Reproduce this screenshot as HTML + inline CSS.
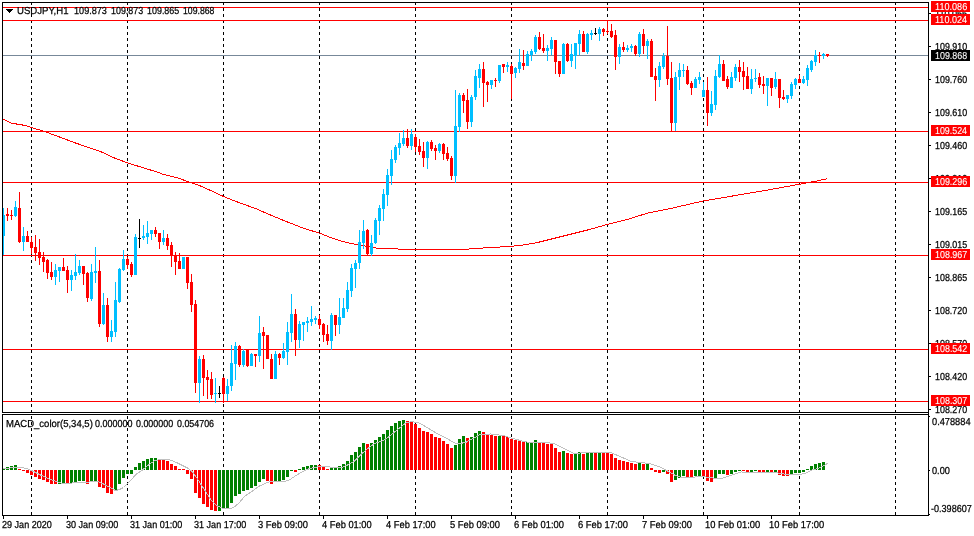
<!DOCTYPE html>
<html><head><meta charset="utf-8"><title>USDJPY,H1</title>
<style>
html,body{margin:0;padding:0;background:#fff}
body{width:974px;height:536px;position:relative;overflow:hidden;font-family:"Liberation Sans",sans-serif}
.t{position:absolute;white-space:pre;line-height:12px;transform-origin:0 0;font-family:"Liberation Sans",sans-serif;filter:grayscale(1);text-rendering:geometricPrecision;-webkit-text-stroke:0.25px}
.bx{position:absolute;left:931px;width:39px;height:11px}
</style></head><body>
<svg width="974" height="536" viewBox="0 0 974 536" shape-rendering="crispEdges" style="position:absolute;left:0;top:0"><g stroke="#000" stroke-width="1" stroke-dasharray="3 3">
<line x1="31.5" y1="2" x2="31.5" y2="412"/>
<line x1="31.5" y1="416" x2="31.5" y2="515"/>
<line x1="127.5" y1="2" x2="127.5" y2="412"/>
<line x1="127.5" y1="416" x2="127.5" y2="515"/>
<line x1="223.5" y1="2" x2="223.5" y2="412"/>
<line x1="223.5" y1="416" x2="223.5" y2="515"/>
<line x1="319.5" y1="2" x2="319.5" y2="412"/>
<line x1="319.5" y1="416" x2="319.5" y2="515"/>
<line x1="415.5" y1="2" x2="415.5" y2="412"/>
<line x1="415.5" y1="416" x2="415.5" y2="515"/>
<line x1="511.5" y1="2" x2="511.5" y2="412"/>
<line x1="511.5" y1="416" x2="511.5" y2="515"/>
<line x1="607.5" y1="2" x2="607.5" y2="412"/>
<line x1="607.5" y1="416" x2="607.5" y2="515"/>
<line x1="703.5" y1="2" x2="703.5" y2="412"/>
<line x1="703.5" y1="416" x2="703.5" y2="515"/>
<line x1="799.5" y1="2" x2="799.5" y2="412"/>
<line x1="799.5" y1="416" x2="799.5" y2="515"/>
<line x1="895.5" y1="2" x2="895.5" y2="412"/>
<line x1="895.5" y1="416" x2="895.5" y2="515"/>
</g>
<rect x="3" y="55" width="925" height="1" fill="#778899"/>
<rect x="3" y="7" width="925" height="1" fill="#ff0000"/>
<rect x="3" y="20" width="925" height="1" fill="#ff0000"/>
<rect x="3" y="131" width="925" height="1" fill="#ff0000"/>
<rect x="3" y="182" width="925" height="1" fill="#ff0000"/>
<rect x="3" y="255" width="925" height="1" fill="#ff0000"/>
<rect x="3" y="349" width="925" height="1" fill="#ff0000"/>
<rect x="3" y="401" width="925" height="1" fill="#ff0000"/>
<polyline points="3.50,119.25 10.50,123.00 25.50,125.50 31.50,127.50 44.50,131.50 55.50,135.50 75.50,143.00 100.50,151.50 115.50,158.50 128.00,163.00 145.50,168.50 155.50,171.50 163.00,174.25 178.00,178.00 190.50,182.50 200.50,186.00 213.00,191.50 223.00,196.25 235.50,201.25 243.50,204.25 255.50,208.50 270.50,215.00 285.50,221.25 303.00,228.00 320.50,233.50 333.00,238.50 345.50,242.25 358.00,244.75 378.00,248.40 397.00,248.80 400.00,249.70 440.50,249.75 465.50,249.25 483.00,248.00 500.50,247.00 520.50,245.50 535.50,243.00 550.50,239.25 570.50,234.25 590.50,229.25 608.00,224.25 628.00,219.25 648.00,213.00 670.50,208.50 683.50,205.50 703.00,201.00 735.50,195.50 768.00,190.00 799.25,184.25 815.50,181.25 827.25,178.75" fill="none" stroke="#ff0000" stroke-width="1"/>
<rect x="3" y="208" width="1" height="47" fill="#00bfff"/>
<rect x="2" y="215" width="3" height="21" fill="#00bfff"/>
<rect x="7" y="208" width="1" height="13" fill="#ff0000"/>
<rect x="6" y="214" width="3" height="2" fill="#ff0000"/>
<rect x="11" y="210" width="1" height="10" fill="#ff0000"/>
<rect x="10" y="215" width="3" height="1" fill="#ff0000"/>
<rect x="15" y="201" width="1" height="16" fill="#00bfff"/>
<rect x="14" y="207" width="3" height="9" fill="#00bfff"/>
<rect x="19" y="192" width="1" height="51" fill="#ff0000"/>
<rect x="18" y="208" width="3" height="34" fill="#ff0000"/>
<rect x="23" y="227" width="1" height="24" fill="#00bfff"/>
<rect x="22" y="236" width="3" height="6" fill="#00bfff"/>
<rect x="27" y="231" width="1" height="11" fill="#ff0000"/>
<rect x="26" y="236" width="3" height="6" fill="#ff0000"/>
<rect x="31" y="237" width="1" height="17" fill="#ff0000"/>
<rect x="30" y="242" width="3" height="6" fill="#ff0000"/>
<rect x="35" y="235" width="1" height="26" fill="#ff0000"/>
<rect x="34" y="247" width="3" height="6" fill="#ff0000"/>
<rect x="39" y="239" width="1" height="26" fill="#ff0000"/>
<rect x="38" y="252" width="3" height="6" fill="#ff0000"/>
<rect x="43" y="252" width="1" height="20" fill="#ff0000"/>
<rect x="42" y="257" width="3" height="5" fill="#ff0000"/>
<rect x="47" y="259" width="1" height="20" fill="#ff0000"/>
<rect x="46" y="260" width="3" height="13" fill="#ff0000"/>
<rect x="51" y="262" width="1" height="18" fill="#ff0000"/>
<rect x="50" y="272" width="3" height="5" fill="#ff0000"/>
<rect x="55" y="264" width="1" height="21" fill="#00bfff"/>
<rect x="54" y="270" width="3" height="7" fill="#00bfff"/>
<rect x="59" y="267" width="1" height="15" fill="#00bfff"/>
<rect x="58" y="267" width="3" height="4" fill="#00bfff"/>
<rect x="63" y="258" width="1" height="13" fill="#ff0000"/>
<rect x="62" y="267" width="3" height="4" fill="#ff0000"/>
<rect x="67" y="266" width="1" height="27" fill="#ff0000"/>
<rect x="66" y="270" width="3" height="10" fill="#ff0000"/>
<rect x="71" y="270" width="1" height="21" fill="#00bfff"/>
<rect x="70" y="275" width="3" height="5" fill="#00bfff"/>
<rect x="75" y="254" width="1" height="26" fill="#00bfff"/>
<rect x="74" y="272" width="3" height="4" fill="#00bfff"/>
<rect x="79" y="260" width="1" height="15" fill="#00bfff"/>
<rect x="78" y="266" width="3" height="7" fill="#00bfff"/>
<rect x="83" y="266" width="1" height="19" fill="#ff0000"/>
<rect x="82" y="266" width="3" height="8" fill="#ff0000"/>
<rect x="87" y="272" width="1" height="30" fill="#ff0000"/>
<rect x="86" y="273" width="3" height="25" fill="#ff0000"/>
<rect x="91" y="264" width="1" height="37" fill="#00bfff"/>
<rect x="90" y="272" width="3" height="27" fill="#00bfff"/>
<rect x="95" y="247" width="1" height="36" fill="#00bfff"/>
<rect x="94" y="271" width="3" height="2" fill="#00bfff"/>
<rect x="99" y="260" width="1" height="67" fill="#ff0000"/>
<rect x="98" y="271" width="3" height="53" fill="#ff0000"/>
<rect x="103" y="293" width="1" height="32" fill="#00bfff"/>
<rect x="102" y="305" width="3" height="19" fill="#00bfff"/>
<rect x="107" y="298" width="1" height="44" fill="#ff0000"/>
<rect x="106" y="305" width="3" height="32" fill="#ff0000"/>
<rect x="111" y="320" width="1" height="22" fill="#00bfff"/>
<rect x="110" y="331" width="3" height="6" fill="#00bfff"/>
<rect x="115" y="282" width="1" height="55" fill="#00bfff"/>
<rect x="114" y="300" width="3" height="32" fill="#00bfff"/>
<rect x="119" y="268" width="1" height="35" fill="#00bfff"/>
<rect x="118" y="269" width="3" height="33" fill="#00bfff"/>
<rect x="123" y="250" width="1" height="21" fill="#00bfff"/>
<rect x="122" y="259" width="3" height="11" fill="#00bfff"/>
<rect x="127" y="257" width="1" height="12" fill="#ff0000"/>
<rect x="126" y="259" width="3" height="6" fill="#ff0000"/>
<rect x="131" y="262" width="1" height="15" fill="#ff0000"/>
<rect x="130" y="264" width="3" height="11" fill="#ff0000"/>
<rect x="135" y="234" width="1" height="41" fill="#00bfff"/>
<rect x="134" y="237" width="3" height="38" fill="#00bfff"/>
<rect x="139" y="219" width="1" height="29" fill="#000000"/>
<rect x="138" y="238" width="3" height="1" fill="#000000"/>
<rect x="143" y="225" width="1" height="15" fill="#00bfff"/>
<rect x="142" y="236" width="3" height="2" fill="#00bfff"/>
<rect x="147" y="221" width="1" height="23" fill="#00bfff"/>
<rect x="146" y="233" width="3" height="4" fill="#00bfff"/>
<rect x="151" y="230" width="1" height="10" fill="#00bfff"/>
<rect x="150" y="230" width="3" height="4" fill="#00bfff"/>
<rect x="155" y="227" width="1" height="10" fill="#ff0000"/>
<rect x="154" y="230" width="3" height="4" fill="#ff0000"/>
<rect x="159" y="233" width="1" height="16" fill="#ff0000"/>
<rect x="158" y="233" width="3" height="9" fill="#ff0000"/>
<rect x="163" y="230" width="1" height="15" fill="#00bfff"/>
<rect x="162" y="238" width="3" height="4" fill="#00bfff"/>
<rect x="167" y="234" width="1" height="16" fill="#ff0000"/>
<rect x="166" y="238" width="3" height="8" fill="#ff0000"/>
<rect x="171" y="242" width="1" height="25" fill="#ff0000"/>
<rect x="170" y="245" width="3" height="11" fill="#ff0000"/>
<rect x="175" y="252" width="1" height="23" fill="#ff0000"/>
<rect x="174" y="255" width="3" height="7" fill="#ff0000"/>
<rect x="179" y="253" width="1" height="16" fill="#ff0000"/>
<rect x="178" y="261" width="3" height="8" fill="#ff0000"/>
<rect x="183" y="257" width="1" height="12" fill="#00bfff"/>
<rect x="182" y="257" width="3" height="12" fill="#00bfff"/>
<rect x="187" y="257" width="1" height="32" fill="#ff0000"/>
<rect x="186" y="257" width="3" height="26" fill="#ff0000"/>
<rect x="191" y="274" width="1" height="38" fill="#ff0000"/>
<rect x="190" y="282" width="3" height="23" fill="#ff0000"/>
<rect x="195" y="300" width="1" height="93" fill="#ff0000"/>
<rect x="194" y="304" width="3" height="79" fill="#ff0000"/>
<rect x="199" y="356" width="1" height="47" fill="#00bfff"/>
<rect x="198" y="359" width="3" height="24" fill="#00bfff"/>
<rect x="203" y="355" width="1" height="41" fill="#ff0000"/>
<rect x="202" y="359" width="3" height="19" fill="#ff0000"/>
<rect x="207" y="370" width="1" height="29" fill="#ff0000"/>
<rect x="206" y="377" width="3" height="3" fill="#ff0000"/>
<rect x="211" y="372" width="1" height="27" fill="#ff0000"/>
<rect x="210" y="379" width="3" height="16" fill="#ff0000"/>
<rect x="215" y="378" width="1" height="25" fill="#00bfff"/>
<rect x="214" y="393" width="3" height="1" fill="#00bfff"/>
<rect x="219" y="386" width="1" height="12" fill="#000000"/>
<rect x="218" y="393" width="3" height="1" fill="#000000"/>
<rect x="223" y="377" width="1" height="26" fill="#ff0000"/>
<rect x="222" y="378" width="3" height="16" fill="#ff0000"/>
<rect x="227" y="379" width="1" height="22" fill="#00bfff"/>
<rect x="226" y="386" width="3" height="8" fill="#00bfff"/>
<rect x="231" y="345" width="1" height="46" fill="#00bfff"/>
<rect x="230" y="363" width="3" height="23" fill="#00bfff"/>
<rect x="235" y="342" width="1" height="38" fill="#00bfff"/>
<rect x="234" y="346" width="3" height="18" fill="#00bfff"/>
<rect x="239" y="345" width="1" height="22" fill="#ff0000"/>
<rect x="238" y="346" width="3" height="19" fill="#ff0000"/>
<rect x="243" y="349" width="1" height="18" fill="#00bfff"/>
<rect x="242" y="351" width="3" height="14" fill="#00bfff"/>
<rect x="247" y="349" width="1" height="18" fill="#ff0000"/>
<rect x="246" y="350" width="3" height="16" fill="#ff0000"/>
<rect x="251" y="353" width="1" height="13" fill="#00bfff"/>
<rect x="250" y="354" width="3" height="12" fill="#00bfff"/>
<rect x="255" y="354" width="1" height="13" fill="#ff0000"/>
<rect x="254" y="354" width="3" height="2" fill="#ff0000"/>
<rect x="259" y="316" width="1" height="46" fill="#00bfff"/>
<rect x="258" y="333" width="3" height="23" fill="#00bfff"/>
<rect x="263" y="327" width="1" height="42" fill="#ff0000"/>
<rect x="262" y="332" width="3" height="4" fill="#ff0000"/>
<rect x="267" y="335" width="1" height="24" fill="#ff0000"/>
<rect x="266" y="335" width="3" height="24" fill="#ff0000"/>
<rect x="271" y="354" width="1" height="25" fill="#ff0000"/>
<rect x="270" y="359" width="3" height="20" fill="#ff0000"/>
<rect x="275" y="351" width="1" height="28" fill="#00bfff"/>
<rect x="274" y="354" width="3" height="25" fill="#00bfff"/>
<rect x="279" y="353" width="1" height="12" fill="#ff0000"/>
<rect x="278" y="354" width="3" height="4" fill="#ff0000"/>
<rect x="283" y="343" width="1" height="16" fill="#00bfff"/>
<rect x="282" y="351" width="3" height="7" fill="#00bfff"/>
<rect x="287" y="322" width="1" height="43" fill="#00bfff"/>
<rect x="286" y="332" width="3" height="20" fill="#00bfff"/>
<rect x="291" y="294" width="1" height="48" fill="#00bfff"/>
<rect x="290" y="314" width="3" height="19" fill="#00bfff"/>
<rect x="295" y="309" width="1" height="47" fill="#ff0000"/>
<rect x="294" y="314" width="3" height="26" fill="#ff0000"/>
<rect x="299" y="321" width="1" height="27" fill="#00bfff"/>
<rect x="298" y="324" width="3" height="16" fill="#00bfff"/>
<rect x="303" y="322" width="1" height="19" fill="#00bfff"/>
<rect x="302" y="322" width="3" height="3" fill="#00bfff"/>
<rect x="307" y="317" width="1" height="15" fill="#00bfff"/>
<rect x="306" y="321" width="3" height="2" fill="#00bfff"/>
<rect x="311" y="306" width="1" height="20" fill="#00bfff"/>
<rect x="310" y="319" width="3" height="3" fill="#00bfff"/>
<rect x="315" y="316" width="1" height="8" fill="#00bfff"/>
<rect x="314" y="318" width="3" height="2" fill="#00bfff"/>
<rect x="319" y="315" width="1" height="14" fill="#ff0000"/>
<rect x="318" y="319" width="3" height="6" fill="#ff0000"/>
<rect x="323" y="323" width="1" height="19" fill="#ff0000"/>
<rect x="322" y="324" width="3" height="11" fill="#ff0000"/>
<rect x="327" y="325" width="1" height="20" fill="#ff0000"/>
<rect x="326" y="334" width="3" height="7" fill="#ff0000"/>
<rect x="331" y="313" width="1" height="37" fill="#00bfff"/>
<rect x="330" y="315" width="3" height="26" fill="#00bfff"/>
<rect x="335" y="315" width="1" height="21" fill="#ff0000"/>
<rect x="334" y="315" width="3" height="10" fill="#ff0000"/>
<rect x="339" y="298" width="1" height="36" fill="#00bfff"/>
<rect x="338" y="317" width="3" height="8" fill="#00bfff"/>
<rect x="343" y="298" width="1" height="20" fill="#00bfff"/>
<rect x="342" y="308" width="3" height="10" fill="#00bfff"/>
<rect x="347" y="282" width="1" height="30" fill="#00bfff"/>
<rect x="346" y="290" width="3" height="19" fill="#00bfff"/>
<rect x="351" y="264" width="1" height="33" fill="#00bfff"/>
<rect x="350" y="268" width="3" height="23" fill="#00bfff"/>
<rect x="355" y="260" width="1" height="28" fill="#00bfff"/>
<rect x="354" y="263" width="3" height="6" fill="#00bfff"/>
<rect x="359" y="230" width="1" height="39" fill="#00bfff"/>
<rect x="358" y="242" width="3" height="21" fill="#00bfff"/>
<rect x="363" y="220" width="1" height="29" fill="#00bfff"/>
<rect x="362" y="231" width="3" height="12" fill="#00bfff"/>
<rect x="367" y="229" width="1" height="26" fill="#ff0000"/>
<rect x="366" y="230" width="3" height="24" fill="#ff0000"/>
<rect x="371" y="235" width="1" height="21" fill="#00bfff"/>
<rect x="370" y="243" width="3" height="11" fill="#00bfff"/>
<rect x="375" y="218" width="1" height="26" fill="#00bfff"/>
<rect x="374" y="220" width="3" height="23" fill="#00bfff"/>
<rect x="379" y="205" width="1" height="30" fill="#00bfff"/>
<rect x="378" y="208" width="3" height="13" fill="#00bfff"/>
<rect x="383" y="189" width="1" height="32" fill="#00bfff"/>
<rect x="382" y="194" width="3" height="15" fill="#00bfff"/>
<rect x="387" y="169" width="1" height="37" fill="#00bfff"/>
<rect x="386" y="175" width="3" height="20" fill="#00bfff"/>
<rect x="391" y="150" width="1" height="35" fill="#00bfff"/>
<rect x="390" y="159" width="3" height="17" fill="#00bfff"/>
<rect x="395" y="145" width="1" height="18" fill="#00bfff"/>
<rect x="394" y="147" width="3" height="13" fill="#00bfff"/>
<rect x="399" y="133" width="1" height="22" fill="#00bfff"/>
<rect x="398" y="143" width="3" height="5" fill="#00bfff"/>
<rect x="403" y="130" width="1" height="16" fill="#00bfff"/>
<rect x="402" y="138" width="3" height="6" fill="#00bfff"/>
<rect x="407" y="129" width="1" height="19" fill="#ff0000"/>
<rect x="406" y="138" width="3" height="8" fill="#ff0000"/>
<rect x="411" y="129" width="1" height="21" fill="#00bfff"/>
<rect x="410" y="134" width="3" height="12" fill="#00bfff"/>
<rect x="415" y="134" width="1" height="18" fill="#ff0000"/>
<rect x="414" y="137" width="3" height="10" fill="#ff0000"/>
<rect x="419" y="139" width="1" height="16" fill="#ff0000"/>
<rect x="418" y="146" width="3" height="6" fill="#ff0000"/>
<rect x="423" y="142" width="1" height="25" fill="#ff0000"/>
<rect x="422" y="151" width="3" height="7" fill="#ff0000"/>
<rect x="427" y="141" width="1" height="28" fill="#00bfff"/>
<rect x="426" y="142" width="3" height="16" fill="#00bfff"/>
<rect x="431" y="140" width="1" height="11" fill="#ff0000"/>
<rect x="430" y="142" width="3" height="7" fill="#ff0000"/>
<rect x="435" y="145" width="1" height="15" fill="#ff0000"/>
<rect x="434" y="148" width="3" height="3" fill="#ff0000"/>
<rect x="439" y="143" width="1" height="10" fill="#00bfff"/>
<rect x="438" y="144" width="3" height="7" fill="#00bfff"/>
<rect x="443" y="143" width="1" height="17" fill="#ff0000"/>
<rect x="442" y="144" width="3" height="10" fill="#ff0000"/>
<rect x="447" y="147" width="1" height="14" fill="#ff0000"/>
<rect x="446" y="153" width="3" height="6" fill="#ff0000"/>
<rect x="451" y="156" width="1" height="24" fill="#ff0000"/>
<rect x="450" y="158" width="3" height="18" fill="#ff0000"/>
<rect x="455" y="90" width="1" height="93" fill="#00bfff"/>
<rect x="454" y="126" width="3" height="50" fill="#00bfff"/>
<rect x="459" y="93" width="1" height="39" fill="#00bfff"/>
<rect x="458" y="95" width="3" height="32" fill="#00bfff"/>
<rect x="463" y="93" width="1" height="20" fill="#ff0000"/>
<rect x="462" y="95" width="3" height="6" fill="#ff0000"/>
<rect x="467" y="89" width="1" height="40" fill="#ff0000"/>
<rect x="466" y="100" width="3" height="22" fill="#ff0000"/>
<rect x="471" y="95" width="1" height="32" fill="#00bfff"/>
<rect x="470" y="97" width="3" height="25" fill="#00bfff"/>
<rect x="475" y="70" width="1" height="30" fill="#00bfff"/>
<rect x="474" y="76" width="3" height="21" fill="#00bfff"/>
<rect x="479" y="64" width="1" height="24" fill="#00bfff"/>
<rect x="478" y="69" width="3" height="9" fill="#00bfff"/>
<rect x="483" y="62" width="1" height="45" fill="#ff0000"/>
<rect x="482" y="69" width="3" height="14" fill="#ff0000"/>
<rect x="487" y="81" width="1" height="21" fill="#ff0000"/>
<rect x="486" y="82" width="3" height="3" fill="#ff0000"/>
<rect x="491" y="80" width="1" height="9" fill="#00bfff"/>
<rect x="490" y="80" width="3" height="5" fill="#00bfff"/>
<rect x="495" y="78" width="1" height="9" fill="#ff0000"/>
<rect x="494" y="80" width="3" height="1" fill="#ff0000"/>
<rect x="499" y="65" width="1" height="18" fill="#00bfff"/>
<rect x="498" y="65" width="3" height="16" fill="#00bfff"/>
<rect x="503" y="64" width="1" height="9" fill="#ff0000"/>
<rect x="502" y="64" width="3" height="3" fill="#ff0000"/>
<rect x="507" y="62" width="1" height="10" fill="#00bfff"/>
<rect x="506" y="65" width="3" height="2" fill="#00bfff"/>
<rect x="511" y="64" width="1" height="35" fill="#ff0000"/>
<rect x="510" y="66" width="3" height="8" fill="#ff0000"/>
<rect x="515" y="67" width="1" height="11" fill="#00bfff"/>
<rect x="514" y="68" width="3" height="5" fill="#00bfff"/>
<rect x="519" y="49" width="1" height="24" fill="#00bfff"/>
<rect x="518" y="62" width="3" height="7" fill="#00bfff"/>
<rect x="523" y="50" width="1" height="20" fill="#ff0000"/>
<rect x="522" y="63" width="3" height="3" fill="#ff0000"/>
<rect x="527" y="51" width="1" height="15" fill="#00bfff"/>
<rect x="526" y="54" width="3" height="12" fill="#00bfff"/>
<rect x="531" y="49" width="1" height="12" fill="#00bfff"/>
<rect x="530" y="51" width="3" height="4" fill="#00bfff"/>
<rect x="535" y="35" width="1" height="19" fill="#00bfff"/>
<rect x="534" y="37" width="3" height="15" fill="#00bfff"/>
<rect x="539" y="32" width="1" height="18" fill="#ff0000"/>
<rect x="538" y="37" width="3" height="12" fill="#ff0000"/>
<rect x="543" y="34" width="1" height="19" fill="#ff0000"/>
<rect x="542" y="48" width="3" height="3" fill="#ff0000"/>
<rect x="547" y="45" width="1" height="16" fill="#00bfff"/>
<rect x="546" y="48" width="3" height="3" fill="#00bfff"/>
<rect x="551" y="37" width="1" height="18" fill="#00bfff"/>
<rect x="550" y="40" width="3" height="9" fill="#00bfff"/>
<rect x="555" y="40" width="1" height="34" fill="#ff0000"/>
<rect x="554" y="40" width="3" height="22" fill="#ff0000"/>
<rect x="559" y="61" width="1" height="16" fill="#ff0000"/>
<rect x="558" y="61" width="3" height="13" fill="#ff0000"/>
<rect x="563" y="43" width="1" height="31" fill="#00bfff"/>
<rect x="562" y="44" width="3" height="30" fill="#00bfff"/>
<rect x="567" y="43" width="1" height="19" fill="#ff0000"/>
<rect x="566" y="44" width="3" height="17" fill="#ff0000"/>
<rect x="571" y="44" width="1" height="23" fill="#00bfff"/>
<rect x="570" y="54" width="3" height="7" fill="#00bfff"/>
<rect x="575" y="43" width="1" height="26" fill="#00bfff"/>
<rect x="574" y="43" width="3" height="13" fill="#00bfff"/>
<rect x="579" y="30" width="1" height="25" fill="#00bfff"/>
<rect x="578" y="34" width="3" height="10" fill="#00bfff"/>
<rect x="583" y="31" width="1" height="21" fill="#ff0000"/>
<rect x="582" y="34" width="3" height="18" fill="#ff0000"/>
<rect x="587" y="33" width="1" height="21" fill="#00bfff"/>
<rect x="586" y="34" width="3" height="18" fill="#00bfff"/>
<rect x="591" y="30" width="1" height="10" fill="#00bfff"/>
<rect x="590" y="33" width="3" height="2" fill="#00bfff"/>
<rect x="595" y="28" width="1" height="7" fill="#000000"/>
<rect x="594" y="33" width="3" height="1" fill="#000000"/>
<rect x="599" y="27" width="1" height="14" fill="#00bfff"/>
<rect x="598" y="29" width="3" height="5" fill="#00bfff"/>
<rect x="603" y="28" width="1" height="8" fill="#ff0000"/>
<rect x="602" y="29" width="3" height="3" fill="#ff0000"/>
<rect x="607" y="21" width="1" height="13" fill="#ff0000"/>
<rect x="606" y="31" width="3" height="1" fill="#ff0000"/>
<rect x="611" y="24" width="1" height="14" fill="#ff0000"/>
<rect x="610" y="31" width="3" height="6" fill="#ff0000"/>
<rect x="615" y="30" width="1" height="40" fill="#ff0000"/>
<rect x="614" y="35" width="3" height="22" fill="#ff0000"/>
<rect x="619" y="44" width="1" height="20" fill="#00bfff"/>
<rect x="618" y="47" width="3" height="10" fill="#00bfff"/>
<rect x="623" y="42" width="1" height="10" fill="#ff0000"/>
<rect x="622" y="47" width="3" height="3" fill="#ff0000"/>
<rect x="627" y="45" width="1" height="7" fill="#00bfff"/>
<rect x="626" y="48" width="3" height="2" fill="#00bfff"/>
<rect x="631" y="44" width="1" height="8" fill="#00bfff"/>
<rect x="630" y="46" width="3" height="2" fill="#00bfff"/>
<rect x="635" y="45" width="1" height="11" fill="#ff0000"/>
<rect x="634" y="46" width="3" height="8" fill="#ff0000"/>
<rect x="639" y="32" width="1" height="25" fill="#00bfff"/>
<rect x="638" y="34" width="3" height="20" fill="#00bfff"/>
<rect x="643" y="29" width="1" height="25" fill="#ff0000"/>
<rect x="642" y="34" width="3" height="12" fill="#ff0000"/>
<rect x="647" y="39" width="1" height="20" fill="#00bfff"/>
<rect x="646" y="41" width="3" height="5" fill="#00bfff"/>
<rect x="651" y="39" width="1" height="38" fill="#ff0000"/>
<rect x="650" y="41" width="3" height="36" fill="#ff0000"/>
<rect x="655" y="68" width="1" height="33" fill="#ff0000"/>
<rect x="654" y="76" width="3" height="4" fill="#ff0000"/>
<rect x="659" y="62" width="1" height="25" fill="#00bfff"/>
<rect x="658" y="66" width="3" height="14" fill="#00bfff"/>
<rect x="663" y="53" width="1" height="16" fill="#00bfff"/>
<rect x="662" y="56" width="3" height="11" fill="#00bfff"/>
<rect x="667" y="26" width="1" height="59" fill="#ff0000"/>
<rect x="666" y="56" width="3" height="23" fill="#ff0000"/>
<rect x="671" y="62" width="1" height="69" fill="#ff0000"/>
<rect x="670" y="78" width="3" height="45" fill="#ff0000"/>
<rect x="675" y="72" width="1" height="59" fill="#00bfff"/>
<rect x="674" y="77" width="3" height="46" fill="#00bfff"/>
<rect x="679" y="63" width="1" height="27" fill="#00bfff"/>
<rect x="678" y="70" width="3" height="7" fill="#00bfff"/>
<rect x="683" y="64" width="1" height="13" fill="#00bfff"/>
<rect x="682" y="70" width="3" height="1" fill="#00bfff"/>
<rect x="687" y="66" width="1" height="19" fill="#ff0000"/>
<rect x="686" y="70" width="3" height="14" fill="#ff0000"/>
<rect x="691" y="81" width="1" height="14" fill="#ff0000"/>
<rect x="690" y="83" width="3" height="5" fill="#ff0000"/>
<rect x="695" y="77" width="1" height="11" fill="#00bfff"/>
<rect x="694" y="79" width="3" height="9" fill="#00bfff"/>
<rect x="699" y="72" width="1" height="12" fill="#00bfff"/>
<rect x="698" y="77" width="3" height="3" fill="#00bfff"/>
<rect x="703" y="82" width="1" height="15" fill="#00bfff"/>
<rect x="702" y="90" width="3" height="7" fill="#00bfff"/>
<rect x="707" y="77" width="1" height="49" fill="#ff0000"/>
<rect x="706" y="90" width="3" height="23" fill="#ff0000"/>
<rect x="711" y="91" width="1" height="25" fill="#00bfff"/>
<rect x="710" y="104" width="3" height="9" fill="#00bfff"/>
<rect x="715" y="70" width="1" height="40" fill="#00bfff"/>
<rect x="714" y="76" width="3" height="29" fill="#00bfff"/>
<rect x="719" y="55" width="1" height="23" fill="#00bfff"/>
<rect x="718" y="64" width="3" height="13" fill="#00bfff"/>
<rect x="723" y="60" width="1" height="21" fill="#ff0000"/>
<rect x="722" y="64" width="3" height="17" fill="#ff0000"/>
<rect x="727" y="76" width="1" height="13" fill="#ff0000"/>
<rect x="726" y="79" width="3" height="8" fill="#ff0000"/>
<rect x="731" y="72" width="1" height="16" fill="#00bfff"/>
<rect x="730" y="77" width="3" height="11" fill="#00bfff"/>
<rect x="735" y="64" width="1" height="17" fill="#00bfff"/>
<rect x="734" y="67" width="3" height="11" fill="#00bfff"/>
<rect x="739" y="60" width="1" height="22" fill="#ff0000"/>
<rect x="738" y="67" width="3" height="5" fill="#ff0000"/>
<rect x="743" y="62" width="1" height="28" fill="#ff0000"/>
<rect x="742" y="71" width="3" height="6" fill="#ff0000"/>
<rect x="747" y="67" width="1" height="22" fill="#ff0000"/>
<rect x="746" y="76" width="3" height="13" fill="#ff0000"/>
<rect x="751" y="69" width="1" height="25" fill="#00bfff"/>
<rect x="750" y="79" width="3" height="10" fill="#00bfff"/>
<rect x="755" y="69" width="1" height="13" fill="#00bfff"/>
<rect x="754" y="78" width="3" height="1" fill="#00bfff"/>
<rect x="759" y="73" width="1" height="15" fill="#ff0000"/>
<rect x="758" y="77" width="3" height="8" fill="#ff0000"/>
<rect x="763" y="76" width="1" height="18" fill="#ff0000"/>
<rect x="762" y="84" width="3" height="2" fill="#ff0000"/>
<rect x="767" y="78" width="1" height="28" fill="#00bfff"/>
<rect x="766" y="78" width="3" height="8" fill="#00bfff"/>
<rect x="771" y="78" width="1" height="18" fill="#ff0000"/>
<rect x="770" y="78" width="3" height="10" fill="#ff0000"/>
<rect x="775" y="72" width="1" height="17" fill="#00bfff"/>
<rect x="774" y="79" width="3" height="8" fill="#00bfff"/>
<rect x="779" y="79" width="1" height="29" fill="#ff0000"/>
<rect x="778" y="79" width="3" height="19" fill="#ff0000"/>
<rect x="783" y="90" width="1" height="10" fill="#ff0000"/>
<rect x="782" y="97" width="3" height="2" fill="#ff0000"/>
<rect x="787" y="95" width="1" height="8" fill="#00bfff"/>
<rect x="786" y="95" width="3" height="4" fill="#00bfff"/>
<rect x="791" y="82" width="1" height="17" fill="#00bfff"/>
<rect x="790" y="84" width="3" height="12" fill="#00bfff"/>
<rect x="795" y="78" width="1" height="11" fill="#00bfff"/>
<rect x="794" y="79" width="3" height="6" fill="#00bfff"/>
<rect x="799" y="75" width="1" height="8" fill="#ff0000"/>
<rect x="798" y="79" width="3" height="4" fill="#ff0000"/>
<rect x="803" y="76" width="1" height="8" fill="#00bfff"/>
<rect x="802" y="79" width="3" height="4" fill="#00bfff"/>
<rect x="807" y="65" width="1" height="21" fill="#00bfff"/>
<rect x="806" y="68" width="3" height="12" fill="#00bfff"/>
<rect x="811" y="60" width="1" height="12" fill="#00bfff"/>
<rect x="810" y="61" width="3" height="9" fill="#00bfff"/>
<rect x="815" y="50" width="1" height="16" fill="#00bfff"/>
<rect x="814" y="55" width="3" height="7" fill="#00bfff"/>
<rect x="819" y="52" width="1" height="11" fill="#ff0000"/>
<rect x="818" y="55" width="3" height="1" fill="#ff0000"/>
<rect x="823" y="53" width="1" height="6" fill="#00bfff"/>
<rect x="822" y="54" width="3" height="2" fill="#00bfff"/>
<rect x="827" y="54" width="1" height="3" fill="#ff0000"/>
<rect x="826" y="54" width="3" height="2" fill="#ff0000"/>
<rect x="2" y="468" width="3" height="2" fill="#008000"/>
<rect x="6" y="467" width="3" height="3" fill="#008000"/>
<rect x="10" y="466" width="3" height="4" fill="#008000"/>
<rect x="14" y="465" width="3" height="5" fill="#008000"/>
<rect x="18" y="469" width="3" height="1" fill="#ff0000"/>
<rect x="22" y="470" width="3" height="1" fill="#ff0000"/>
<rect x="26" y="470" width="3" height="3" fill="#ff0000"/>
<rect x="30" y="470" width="3" height="5" fill="#ff0000"/>
<rect x="34" y="470" width="3" height="7" fill="#ff0000"/>
<rect x="38" y="470" width="3" height="9" fill="#ff0000"/>
<rect x="42" y="470" width="3" height="10" fill="#ff0000"/>
<rect x="46" y="470" width="3" height="12" fill="#ff0000"/>
<rect x="50" y="470" width="3" height="14" fill="#ff0000"/>
<rect x="54" y="470" width="3" height="14" fill="#ff0000"/>
<rect x="58" y="470" width="3" height="14" fill="#008000"/>
<rect x="62" y="470" width="3" height="13" fill="#008000"/>
<rect x="66" y="470" width="3" height="13" fill="#ff0000"/>
<rect x="70" y="470" width="3" height="13" fill="#008000"/>
<rect x="74" y="470" width="3" height="13" fill="#008000"/>
<rect x="78" y="470" width="3" height="11" fill="#008000"/>
<rect x="82" y="470" width="3" height="11" fill="#008000"/>
<rect x="86" y="470" width="3" height="14" fill="#ff0000"/>
<rect x="90" y="470" width="3" height="11" fill="#008000"/>
<rect x="94" y="470" width="3" height="11" fill="#008000"/>
<rect x="98" y="470" width="3" height="17" fill="#ff0000"/>
<rect x="102" y="470" width="3" height="18" fill="#ff0000"/>
<rect x="106" y="470" width="3" height="23" fill="#ff0000"/>
<rect x="110" y="470" width="3" height="24" fill="#ff0000"/>
<rect x="114" y="470" width="3" height="21" fill="#008000"/>
<rect x="118" y="470" width="3" height="14" fill="#008000"/>
<rect x="122" y="470" width="3" height="8" fill="#008000"/>
<rect x="126" y="470" width="3" height="4" fill="#008000"/>
<rect x="130" y="470" width="3" height="4" fill="#008000"/>
<rect x="134" y="467" width="3" height="3" fill="#008000"/>
<rect x="138" y="463" width="3" height="7" fill="#008000"/>
<rect x="142" y="461" width="3" height="9" fill="#008000"/>
<rect x="146" y="459" width="3" height="11" fill="#008000"/>
<rect x="150" y="458" width="3" height="12" fill="#008000"/>
<rect x="154" y="458" width="3" height="12" fill="#008000"/>
<rect x="158" y="460" width="3" height="10" fill="#ff0000"/>
<rect x="162" y="460" width="3" height="10" fill="#ff0000"/>
<rect x="166" y="461" width="3" height="9" fill="#ff0000"/>
<rect x="170" y="464" width="3" height="6" fill="#ff0000"/>
<rect x="174" y="466" width="3" height="4" fill="#ff0000"/>
<rect x="178" y="469" width="3" height="1" fill="#ff0000"/>
<rect x="182" y="469" width="3" height="1" fill="#ff0000"/>
<rect x="186" y="470" width="3" height="4" fill="#ff0000"/>
<rect x="190" y="470" width="3" height="9" fill="#ff0000"/>
<rect x="194" y="470" width="3" height="23" fill="#ff0000"/>
<rect x="198" y="470" width="3" height="28" fill="#ff0000"/>
<rect x="202" y="470" width="3" height="34" fill="#ff0000"/>
<rect x="206" y="470" width="3" height="37" fill="#ff0000"/>
<rect x="210" y="470" width="3" height="40" fill="#ff0000"/>
<rect x="214" y="470" width="3" height="41" fill="#ff0000"/>
<rect x="218" y="470" width="3" height="41" fill="#008000"/>
<rect x="222" y="470" width="3" height="39" fill="#008000"/>
<rect x="226" y="470" width="3" height="38" fill="#008000"/>
<rect x="230" y="470" width="3" height="33" fill="#008000"/>
<rect x="234" y="470" width="3" height="26" fill="#008000"/>
<rect x="238" y="470" width="3" height="24" fill="#008000"/>
<rect x="242" y="470" width="3" height="21" fill="#008000"/>
<rect x="246" y="470" width="3" height="20" fill="#008000"/>
<rect x="250" y="470" width="3" height="18" fill="#008000"/>
<rect x="254" y="470" width="3" height="16" fill="#008000"/>
<rect x="258" y="470" width="3" height="12" fill="#008000"/>
<rect x="262" y="470" width="3" height="9" fill="#008000"/>
<rect x="266" y="470" width="3" height="11" fill="#ff0000"/>
<rect x="270" y="470" width="3" height="14" fill="#ff0000"/>
<rect x="274" y="470" width="3" height="11" fill="#008000"/>
<rect x="278" y="470" width="3" height="11" fill="#008000"/>
<rect x="282" y="470" width="3" height="10" fill="#008000"/>
<rect x="286" y="470" width="3" height="7" fill="#008000"/>
<rect x="290" y="470" width="3" height="1" fill="#008000"/>
<rect x="294" y="470" width="3" height="2" fill="#ff0000"/>
<rect x="298" y="469" width="3" height="1" fill="#008000"/>
<rect x="302" y="467" width="3" height="3" fill="#008000"/>
<rect x="306" y="466" width="3" height="4" fill="#008000"/>
<rect x="310" y="465" width="3" height="5" fill="#008000"/>
<rect x="314" y="465" width="3" height="5" fill="#008000"/>
<rect x="318" y="465" width="3" height="5" fill="#ff0000"/>
<rect x="322" y="467" width="3" height="3" fill="#ff0000"/>
<rect x="326" y="469" width="3" height="1" fill="#ff0000"/>
<rect x="330" y="468" width="3" height="2" fill="#008000"/>
<rect x="334" y="468" width="3" height="2" fill="#008000"/>
<rect x="338" y="466" width="3" height="4" fill="#008000"/>
<rect x="342" y="464" width="3" height="6" fill="#008000"/>
<rect x="346" y="461" width="3" height="9" fill="#008000"/>
<rect x="350" y="455" width="3" height="15" fill="#008000"/>
<rect x="354" y="452" width="3" height="18" fill="#008000"/>
<rect x="358" y="447" width="3" height="23" fill="#008000"/>
<rect x="362" y="443" width="3" height="27" fill="#008000"/>
<rect x="366" y="444" width="3" height="26" fill="#ff0000"/>
<rect x="370" y="443" width="3" height="27" fill="#008000"/>
<rect x="374" y="440" width="3" height="30" fill="#008000"/>
<rect x="378" y="437" width="3" height="33" fill="#008000"/>
<rect x="382" y="434" width="3" height="36" fill="#008000"/>
<rect x="386" y="430" width="3" height="40" fill="#008000"/>
<rect x="390" y="426" width="3" height="44" fill="#008000"/>
<rect x="394" y="423" width="3" height="47" fill="#008000"/>
<rect x="398" y="421" width="3" height="49" fill="#008000"/>
<rect x="402" y="420" width="3" height="50" fill="#008000"/>
<rect x="406" y="421" width="3" height="49" fill="#ff0000"/>
<rect x="410" y="422" width="3" height="48" fill="#ff0000"/>
<rect x="414" y="424" width="3" height="46" fill="#ff0000"/>
<rect x="418" y="428" width="3" height="42" fill="#ff0000"/>
<rect x="422" y="431" width="3" height="39" fill="#ff0000"/>
<rect x="426" y="432" width="3" height="38" fill="#ff0000"/>
<rect x="430" y="434" width="3" height="36" fill="#ff0000"/>
<rect x="434" y="437" width="3" height="33" fill="#ff0000"/>
<rect x="438" y="438" width="3" height="32" fill="#ff0000"/>
<rect x="442" y="441" width="3" height="29" fill="#ff0000"/>
<rect x="446" y="444" width="3" height="26" fill="#ff0000"/>
<rect x="450" y="448" width="3" height="22" fill="#ff0000"/>
<rect x="454" y="445" width="3" height="25" fill="#008000"/>
<rect x="458" y="439" width="3" height="31" fill="#008000"/>
<rect x="462" y="436" width="3" height="34" fill="#008000"/>
<rect x="466" y="438" width="3" height="32" fill="#ff0000"/>
<rect x="470" y="437" width="3" height="33" fill="#008000"/>
<rect x="474" y="433" width="3" height="37" fill="#008000"/>
<rect x="478" y="431" width="3" height="39" fill="#008000"/>
<rect x="482" y="432" width="3" height="38" fill="#ff0000"/>
<rect x="486" y="434" width="3" height="36" fill="#ff0000"/>
<rect x="490" y="435" width="3" height="35" fill="#ff0000"/>
<rect x="494" y="436" width="3" height="34" fill="#ff0000"/>
<rect x="498" y="436" width="3" height="34" fill="#008000"/>
<rect x="502" y="436" width="3" height="34" fill="#ff0000"/>
<rect x="506" y="437" width="3" height="33" fill="#ff0000"/>
<rect x="510" y="439" width="3" height="31" fill="#ff0000"/>
<rect x="514" y="440" width="3" height="30" fill="#ff0000"/>
<rect x="518" y="441" width="3" height="29" fill="#ff0000"/>
<rect x="522" y="442" width="3" height="28" fill="#ff0000"/>
<rect x="526" y="442" width="3" height="28" fill="#008000"/>
<rect x="530" y="442" width="3" height="28" fill="#008000"/>
<rect x="534" y="440" width="3" height="30" fill="#008000"/>
<rect x="538" y="443" width="3" height="27" fill="#ff0000"/>
<rect x="542" y="443" width="3" height="27" fill="#ff0000"/>
<rect x="546" y="444" width="3" height="26" fill="#ff0000"/>
<rect x="550" y="444" width="3" height="26" fill="#ff0000"/>
<rect x="554" y="448" width="3" height="22" fill="#ff0000"/>
<rect x="558" y="452" width="3" height="18" fill="#ff0000"/>
<rect x="562" y="451" width="3" height="19" fill="#008000"/>
<rect x="566" y="453" width="3" height="17" fill="#ff0000"/>
<rect x="570" y="454" width="3" height="16" fill="#ff0000"/>
<rect x="574" y="454" width="3" height="16" fill="#008000"/>
<rect x="578" y="452" width="3" height="18" fill="#008000"/>
<rect x="582" y="454" width="3" height="16" fill="#ff0000"/>
<rect x="586" y="452" width="3" height="18" fill="#008000"/>
<rect x="590" y="453" width="3" height="17" fill="#008000"/>
<rect x="594" y="453" width="3" height="17" fill="#ff0000"/>
<rect x="598" y="453" width="3" height="17" fill="#008000"/>
<rect x="602" y="453" width="3" height="17" fill="#ff0000"/>
<rect x="606" y="453" width="3" height="17" fill="#ff0000"/>
<rect x="610" y="454" width="3" height="16" fill="#ff0000"/>
<rect x="614" y="458" width="3" height="12" fill="#ff0000"/>
<rect x="618" y="460" width="3" height="10" fill="#ff0000"/>
<rect x="622" y="461" width="3" height="9" fill="#ff0000"/>
<rect x="626" y="462" width="3" height="8" fill="#ff0000"/>
<rect x="630" y="463" width="3" height="7" fill="#ff0000"/>
<rect x="634" y="464" width="3" height="6" fill="#ff0000"/>
<rect x="638" y="463" width="3" height="7" fill="#008000"/>
<rect x="642" y="464" width="3" height="6" fill="#ff0000"/>
<rect x="646" y="464" width="3" height="6" fill="#008000"/>
<rect x="650" y="468" width="3" height="2" fill="#ff0000"/>
<rect x="654" y="470" width="3" height="2" fill="#ff0000"/>
<rect x="658" y="470" width="3" height="3" fill="#ff0000"/>
<rect x="662" y="470" width="3" height="2" fill="#008000"/>
<rect x="666" y="470" width="3" height="4" fill="#ff0000"/>
<rect x="670" y="470" width="3" height="12" fill="#ff0000"/>
<rect x="674" y="470" width="3" height="10" fill="#008000"/>
<rect x="678" y="470" width="3" height="8" fill="#008000"/>
<rect x="682" y="470" width="3" height="6" fill="#008000"/>
<rect x="686" y="470" width="3" height="7" fill="#ff0000"/>
<rect x="690" y="470" width="3" height="7" fill="#ff0000"/>
<rect x="694" y="470" width="3" height="6" fill="#008000"/>
<rect x="698" y="470" width="3" height="6" fill="#008000"/>
<rect x="702" y="470" width="3" height="6" fill="#ff0000"/>
<rect x="706" y="470" width="3" height="11" fill="#ff0000"/>
<rect x="710" y="470" width="3" height="12" fill="#ff0000"/>
<rect x="714" y="470" width="3" height="8" fill="#008000"/>
<rect x="718" y="470" width="3" height="4" fill="#008000"/>
<rect x="722" y="470" width="3" height="4" fill="#008000"/>
<rect x="726" y="470" width="3" height="5" fill="#ff0000"/>
<rect x="730" y="470" width="3" height="4" fill="#008000"/>
<rect x="734" y="470" width="3" height="2" fill="#008000"/>
<rect x="738" y="470" width="3" height="1" fill="#008000"/>
<rect x="742" y="470" width="3" height="1" fill="#ff0000"/>
<rect x="746" y="470" width="3" height="3" fill="#ff0000"/>
<rect x="750" y="470" width="3" height="3" fill="#008000"/>
<rect x="754" y="470" width="3" height="1" fill="#008000"/>
<rect x="758" y="470" width="3" height="3" fill="#ff0000"/>
<rect x="762" y="470" width="3" height="2" fill="#ff0000"/>
<rect x="766" y="470" width="3" height="2" fill="#008000"/>
<rect x="770" y="470" width="3" height="2" fill="#ff0000"/>
<rect x="774" y="470" width="3" height="2" fill="#008000"/>
<rect x="778" y="470" width="3" height="5" fill="#ff0000"/>
<rect x="782" y="470" width="3" height="6" fill="#ff0000"/>
<rect x="786" y="470" width="3" height="6" fill="#ff0000"/>
<rect x="790" y="470" width="3" height="4" fill="#008000"/>
<rect x="794" y="470" width="3" height="3" fill="#008000"/>
<rect x="798" y="470" width="3" height="3" fill="#008000"/>
<rect x="802" y="470" width="3" height="2" fill="#008000"/>
<rect x="806" y="469" width="3" height="1" fill="#008000"/>
<rect x="810" y="466" width="3" height="4" fill="#008000"/>
<rect x="814" y="464" width="3" height="6" fill="#008000"/>
<rect x="818" y="463" width="3" height="7" fill="#008000"/>
<rect x="822" y="462" width="3" height="8" fill="#008000"/>
<polyline points="3.50,468.50 16.50,467.50 25.50,468.10 31.50,470.50 41.50,475.50 50.50,479.50 56.50,481.50 63.00,483.50 80.50,482.50 98.00,481.50 104.50,484.50 115.50,490.50 119.50,489.50 123.50,487.50 130.00,481.10 136.25,474.25 142.50,469.90 148.50,464.90 155.00,460.50 161.25,459.50 170.00,459.90 177.50,463.00 187.50,468.00 192.50,471.75 198.50,480.50 205.00,490.50 211.25,500.50 217.50,506.10 223.50,508.50 230.00,509.00 235.00,506.50 239.50,502.50 244.50,496.50 252.25,491.10 258.50,486.50 266.00,483.00 271.00,481.50 283.50,481.50 288.50,480.50 296.00,475.50 303.50,471.10 308.50,469.00 314.50,467.40 321.00,466.50 328.50,466.50 333.50,468.00 342.25,467.50 348.50,464.50 354.50,461.10 362.00,453.50 368.25,448.10 374.50,443.50 383.25,440.50 389.50,436.25 397.00,430.00 405.50,423.10 412.00,421.50 419.50,423.10 427.00,427.50 437.00,433.50 447.00,438.50 455.50,443.50 462.00,443.10 465.50,442.50 471.50,439.40 479.25,435.00 490.50,434.00 503.00,435.50 511.50,438.10 525.50,441.90 535.50,442.50 553.00,443.10 560.50,446.90 568.00,450.50 574.25,453.50 586.50,452.50 610.50,452.50 619.00,456.10 631.50,461.50 649.00,463.50 659.00,466.50 666.50,470.50 675.50,475.50 681.50,477.50 694.00,477.10 702.50,476.50 710.00,477.50 720.00,479.00 728.50,476.10 741.25,472.00 760.00,472.40 777.50,473.00 787.50,474.50 800.00,474.50 806.25,473.00 812.50,469.90 818.50,468.50 827.50,463.40" fill="none" stroke="#c0c0c0" stroke-width="1"/>
<rect x="2" y="2" width="927" height="1" fill="#000000"/>
<rect x="2" y="2" width="1" height="411" fill="#000000"/>
<rect x="2" y="412" width="927" height="1" fill="#000000"/>
<rect x="2" y="414" width="927" height="1" fill="#000000"/>
<rect x="2" y="414" width="1" height="102" fill="#000000"/>
<rect x="2" y="515" width="927" height="1" fill="#000000"/>
<rect x="928" y="2" width="1" height="514" fill="#000000"/>
<rect x="3" y="516" width="1" height="3" fill="#000000"/>
<rect x="67" y="516" width="1" height="3" fill="#000000"/>
<rect x="131" y="516" width="1" height="3" fill="#000000"/>
<rect x="195" y="516" width="1" height="3" fill="#000000"/>
<rect x="259" y="516" width="1" height="3" fill="#000000"/>
<rect x="323" y="516" width="1" height="3" fill="#000000"/>
<rect x="387" y="516" width="1" height="3" fill="#000000"/>
<rect x="451" y="516" width="1" height="3" fill="#000000"/>
<rect x="515" y="516" width="1" height="3" fill="#000000"/>
<rect x="579" y="516" width="1" height="3" fill="#000000"/>
<rect x="643" y="516" width="1" height="3" fill="#000000"/>
<rect x="707" y="516" width="1" height="3" fill="#000000"/>
<rect x="771" y="516" width="1" height="3" fill="#000000"/>
<rect x="929" y="13" width="2" height="1" fill="#000000"/>
<rect x="929" y="46" width="2" height="1" fill="#000000"/>
<rect x="929" y="79" width="2" height="1" fill="#000000"/>
<rect x="929" y="112" width="2" height="1" fill="#000000"/>
<rect x="929" y="145" width="2" height="1" fill="#000000"/>
<rect x="929" y="178" width="2" height="1" fill="#000000"/>
<rect x="929" y="211" width="2" height="1" fill="#000000"/>
<rect x="929" y="244" width="2" height="1" fill="#000000"/>
<rect x="929" y="277" width="2" height="1" fill="#000000"/>
<rect x="929" y="310" width="2" height="1" fill="#000000"/>
<rect x="929" y="343" width="2" height="1" fill="#000000"/>
<rect x="929" y="376" width="2" height="1" fill="#000000"/>
<rect x="929" y="409" width="2" height="1" fill="#000000"/>
<rect x="929" y="470" width="1" height="1" fill="#000000"/>
<rect x="929" y="416" width="1" height="1" fill="#000000"/>
<rect x="929" y="514" width="1" height="1" fill="#000000"/>
<rect x="6" y="9" width="7" height="1" fill="#000000"/>
<rect x="7" y="10" width="5" height="1" fill="#000000"/>
<rect x="8" y="11" width="3" height="1" fill="#000000"/>
<rect x="9" y="12" width="1" height="1" fill="#000000"/></svg>
<div class="t" style="left:16.96px;top:6.00px;color:#000;font-size:10.15px;transform:scaleX(0.9463)">USDJPY,H1</div>
<div class="t" style="left:74.32px;top:6.00px;color:#000;font-size:10.15px;transform:scaleX(0.8992)">109.873</div>
<div class="t" style="left:111.23px;top:6.00px;color:#000;font-size:10.15px;transform:scaleX(0.8795)">109.873</div>
<div class="t" style="left:147.43px;top:6.00px;color:#000;font-size:10.15px;transform:scaleX(0.8817)">109.865</div>
<div class="t" style="left:183.35px;top:6.00px;color:#000;font-size:10.15px;transform:scaleX(0.8570)">109.868</div>
<div class="t" style="left:5.71px;top:419.00px;color:#000;font-size:10.15px;transform:scaleX(0.9410)">MACD_color(5,34,5)</div>
<div class="t" style="left:94.64px;top:419.00px;color:#000;font-size:10.15px;transform:scaleX(0.8859)">0.000000</div>
<div class="t" style="left:135.74px;top:419.00px;color:#000;font-size:10.15px;transform:scaleX(0.8787)">0.000000</div>
<div class="t" style="left:176.64px;top:419.00px;color:#000;font-size:10.15px;transform:scaleX(0.8774)">0.054706</div>
<div class="t" style="left:934.72px;top:9.00px;color:#000;font-size:10.15px;transform:scaleX(0.8975)">110.055</div>
<div class="t" style="left:934.73px;top:42.00px;color:#000;font-size:10.15px;transform:scaleX(0.8783)">109.910</div>
<div class="t" style="left:934.73px;top:75.00px;color:#000;font-size:10.15px;transform:scaleX(0.8783)">109.760</div>
<div class="t" style="left:934.73px;top:108.00px;color:#000;font-size:10.15px;transform:scaleX(0.8783)">109.610</div>
<div class="t" style="left:934.73px;top:141.00px;color:#000;font-size:10.15px;transform:scaleX(0.8783)">109.460</div>
<div class="t" style="left:934.73px;top:174.00px;color:#000;font-size:10.15px;transform:scaleX(0.8783)">109.310</div>
<div class="t" style="left:934.73px;top:207.00px;color:#000;font-size:10.15px;transform:scaleX(0.8789)">109.165</div>
<div class="t" style="left:934.73px;top:240.00px;color:#000;font-size:10.15px;transform:scaleX(0.8789)">109.015</div>
<div class="t" style="left:934.73px;top:273.00px;color:#000;font-size:10.15px;transform:scaleX(0.8789)">108.865</div>
<div class="t" style="left:934.73px;top:306.00px;color:#000;font-size:10.15px;transform:scaleX(0.8783)">108.720</div>
<div class="t" style="left:934.73px;top:339.00px;color:#000;font-size:10.15px;transform:scaleX(0.8783)">108.570</div>
<div class="t" style="left:934.73px;top:372.00px;color:#000;font-size:10.15px;transform:scaleX(0.8783)">108.420</div>
<div class="t" style="left:934.73px;top:405.00px;color:#000;font-size:10.15px;transform:scaleX(0.8783)">108.270</div>
<div class="t" style="left:931.53px;top:417.00px;color:#000;font-size:10.15px;transform:scaleX(0.9126)">0.478884</div>
<div class="t" style="left:931.53px;top:466.00px;color:#000;font-size:10.15px;transform:scaleX(0.9074)">0.00</div>
<div class="t" style="left:931.49px;top:504.00px;color:#000;font-size:10.15px;transform:scaleX(0.8941)">-0.398607</div>
<div class="t" style="left:1.55px;top:520.00px;color:#000;font-size:10.15px;transform:scaleX(0.8947)">29 Jan 2020</div>
<div class="t" style="left:65.66px;top:520.00px;color:#000;font-size:10.15px;transform:scaleX(0.8942)">30 Jan 09:00</div>
<div class="t" style="left:129.66px;top:520.00px;color:#000;font-size:10.15px;transform:scaleX(0.8942)">31 Jan 01:00</div>
<div class="t" style="left:193.66px;top:520.00px;color:#000;font-size:10.15px;transform:scaleX(0.8942)">31 Jan 17:00</div>
<div class="t" style="left:257.65px;top:520.00px;color:#000;font-size:10.15px;transform:scaleX(0.9230)">3 Feb 09:00</div>
<div class="t" style="left:321.79px;top:520.00px;color:#000;font-size:10.15px;transform:scaleX(0.9203)">4 Feb 01:00</div>
<div class="t" style="left:385.79px;top:520.00px;color:#000;font-size:10.15px;transform:scaleX(0.9203)">4 Feb 17:00</div>
<div class="t" style="left:449.63px;top:520.00px;color:#000;font-size:10.15px;transform:scaleX(0.9234)">5 Feb 09:00</div>
<div class="t" style="left:513.53px;top:520.00px;color:#000;font-size:10.15px;transform:scaleX(0.9252)">6 Feb 01:00</div>
<div class="t" style="left:577.53px;top:520.00px;color:#000;font-size:10.15px;transform:scaleX(0.9252)">6 Feb 17:00</div>
<div class="t" style="left:641.53px;top:520.00px;color:#000;font-size:10.15px;transform:scaleX(0.9252)">7 Feb 09:00</div>
<div class="t" style="left:705.30px;top:520.00px;color:#000;font-size:10.15px;transform:scaleX(0.9239)">10 Feb 01:00</div>
<div class="t" style="left:769.30px;top:520.00px;color:#000;font-size:10.15px;transform:scaleX(0.9239)">10 Feb 17:00</div>
<div class="bx" style="top:1px;background:#ff0000"></div>
<div class="bx" style="top:14px;background:#ff0000"></div>
<div class="bx" style="top:125px;background:#ff0000"></div>
<div class="bx" style="top:176px;background:#ff0000"></div>
<div class="bx" style="top:249px;background:#ff0000"></div>
<div class="bx" style="top:343px;background:#ff0000"></div>
<div class="bx" style="top:395px;background:#ff0000"></div>
<div class="bx" style="top:50px;background:#000"></div>
<div class="t" style="left:934.72px;top:2.00px;color:#fff;font-size:10.15px;-webkit-text-stroke:0.1px;transform:scaleX(0.8981)">110.086</div>
<div class="t" style="left:934.72px;top:15.00px;color:#fff;font-size:10.15px;-webkit-text-stroke:0.1px;transform:scaleX(0.8942)">110.024</div>
<div class="t" style="left:934.73px;top:126.00px;color:#fff;font-size:10.15px;-webkit-text-stroke:0.1px;transform:scaleX(0.8758)">109.524</div>
<div class="t" style="left:934.73px;top:177.00px;color:#fff;font-size:10.15px;-webkit-text-stroke:0.1px;transform:scaleX(0.8795)">109.296</div>
<div class="t" style="left:934.73px;top:250.00px;color:#fff;font-size:10.15px;-webkit-text-stroke:0.1px;transform:scaleX(0.8814)">108.967</div>
<div class="t" style="left:934.73px;top:344.00px;color:#fff;font-size:10.15px;-webkit-text-stroke:0.1px;transform:scaleX(0.8814)">108.542</div>
<div class="t" style="left:934.73px;top:396.00px;color:#fff;font-size:10.15px;-webkit-text-stroke:0.1px;transform:scaleX(0.8814)">108.307</div>
<div class="t" style="left:934.73px;top:51.00px;color:#fff;font-size:10.15px;-webkit-text-stroke:0.1px;transform:scaleX(0.8795)">109.868</div>
</body></html>
